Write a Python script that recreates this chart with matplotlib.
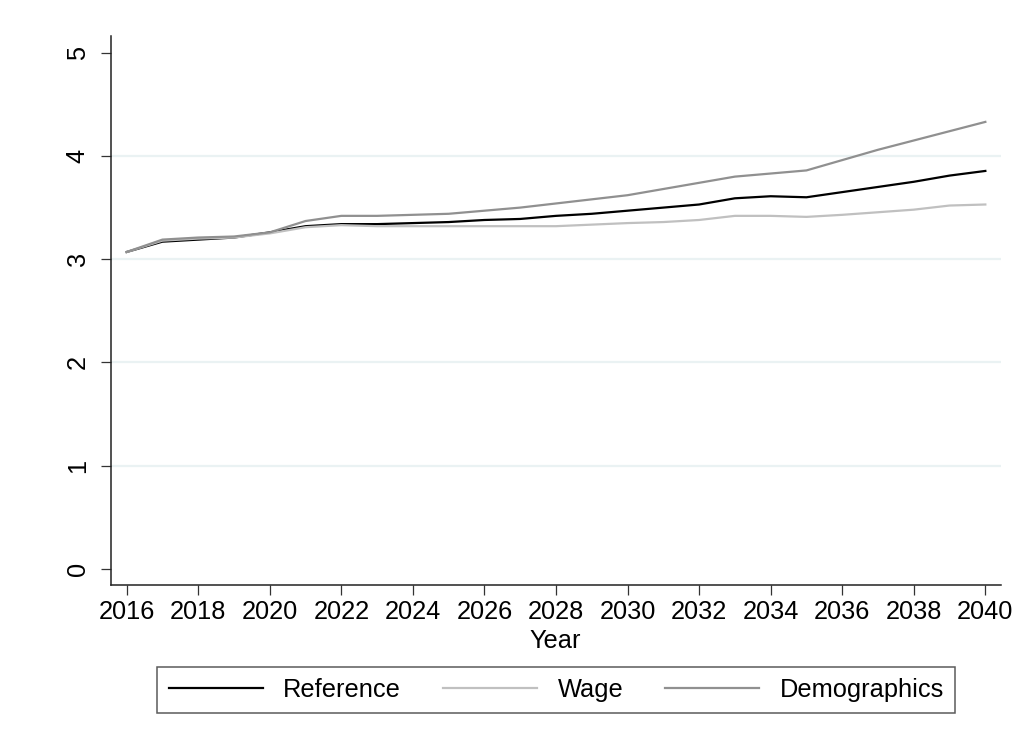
import matplotlib.pyplot as plt

plt.rcParams['font.family'] = ['Liberation Sans', 'DejaVu Sans']

years = list(range(2016, 2041))

reference = [3.07, 3.17, 3.19, 3.21, 3.26, 3.32, 3.34, 3.34, 3.35, 3.36, 3.38, 3.39,
             3.42, 3.44, 3.47, 3.50, 3.53, 3.59, 3.61, 3.60, 3.65, 3.70, 3.75, 3.81, 3.855]
wage = [3.07, 3.18, 3.20, 3.21, 3.25, 3.31, 3.33, 3.32, 3.32, 3.32, 3.32, 3.32,
        3.32, 3.335, 3.35, 3.36, 3.38, 3.42, 3.42, 3.41, 3.43, 3.455, 3.48, 3.52, 3.53]
demographics = [3.07, 3.19, 3.21, 3.22, 3.26, 3.37, 3.42, 3.42, 3.43, 3.44, 3.47, 3.50,
                3.54, 3.58, 3.62, 3.68, 3.74, 3.80, 3.83, 3.86, 3.96, 4.06, 4.15, 4.24, 4.33]

fig = plt.figure(figsize=(10.17, 7.42), dpi=100)
ax = fig.add_axes([0.1088, 0.2116, 0.984 - 0.1088, 0.9515 - 0.2116])

ax.plot(years, reference, color='black', lw=1.6, label='Reference')
ax.plot(years, wage, color='#c0c0c0', lw=1.6, label='Wage')
ax.plot(years, demographics, color='#909090', lw=1.6, label='Demographics')

ax.set_xlim(2015.553, 2040.43)
ax.set_ylim(-0.155, 5.162)
ax.set_xticks(range(2016, 2041, 2))
ax.set_yticks(range(0, 6))
ax.set_yticklabels([str(v) for v in range(0, 6)], rotation=90, va='center')
ax.tick_params(labelsize=18.3, length=7, width=0.9, colors='#333333', labelcolor='black')
ax.tick_params(axis='y', pad=8)

# light horizontal grid at the inner y ticks
for v in range(1, 5):
    ax.axhline(v, color='#eaf2f3', lw=1.6, zorder=0)

for side in ['top', 'right']:
    ax.spines[side].set_visible(False)
for side in ['left', 'bottom']:
    ax.spines[side].set_linewidth(1.1)
    ax.spines[side].set_color('#222222')

ax.set_xlabel('Year', fontsize=18.3, labelpad=4)

leg = fig.legend(loc='center', bbox_to_anchor=(0.547, 0.07), ncol=3, fontsize=18.3,
                 frameon=True, fancybox=False, handlelength=3.7, columnspacing=1.65,
                 handletextpad=0.8, borderpad=0.45, borderaxespad=0)
leg.get_frame().set_edgecolor('#333333')
leg.get_frame().set_linewidth(1.1)

fig.savefig('out.png', dpi=100)
